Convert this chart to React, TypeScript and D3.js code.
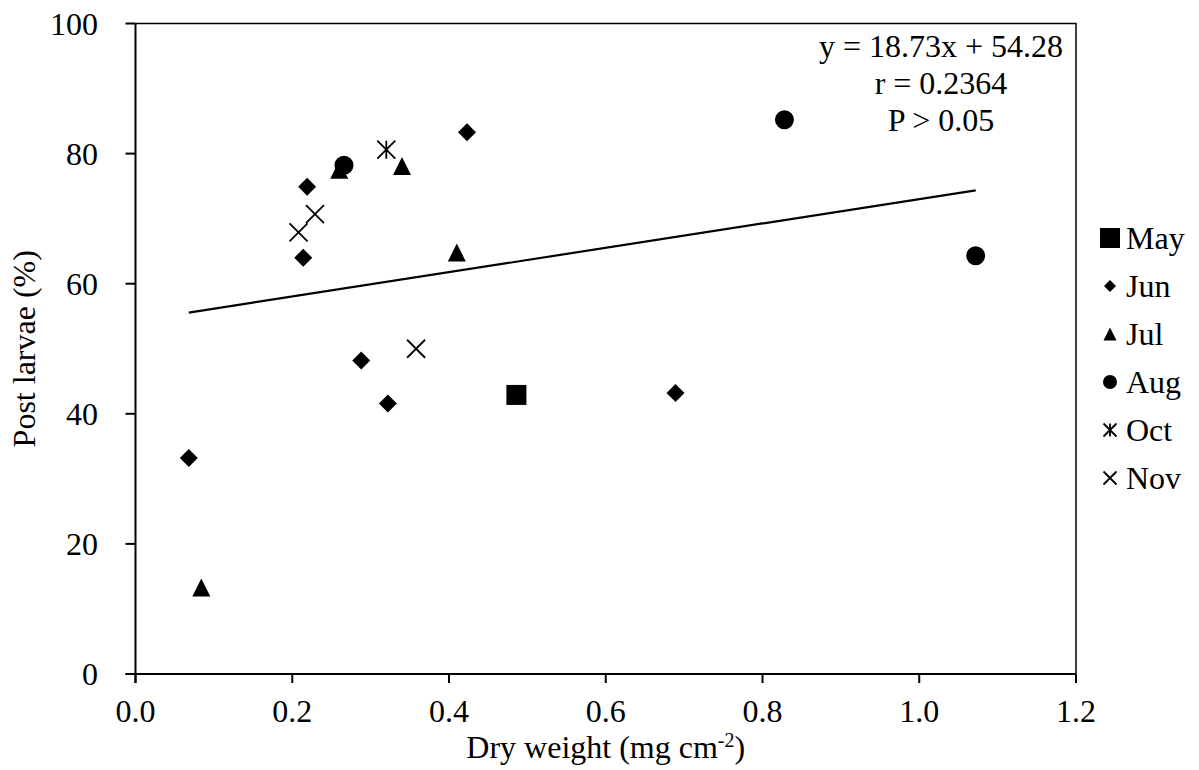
import React from "react";
import * as d3 from "d3";

const mayX = [0.486];
const mayY = [42.9];
const junX = [0.068, 0.219, 0.214, 0.288, 0.322, 0.423, 0.689];
const junY = [33.2, 74.9, 64.0, 48.2, 41.6, 83.3, 43.2];
const julX = [0.084, 0.260, 0.340, 0.410];
const julY = [13.3, 77.5, 78.1, 64.8];
const augX = [0.266, 0.828, 1.072];
const augY = [78.2, 85.2, 64.3];
const octX = [0.320];
const octY = [80.6];
const novX = [0.208, 0.229, 0.358];
const novY = [67.9, 70.7, 50.0];

const xTicks = [0, 0.2, 0.4, 0.6, 0.8, 1.0, 1.2];
const yTicks = [0, 20, 40, 60, 80, 100];
const slope = 18.73;
const intercept = 54.28;
const annotation = ["y = 18.73x + 54.28", "r = 0.2364", "P > 0.05"];
const legendLabels = ["May", "Jun", "Jul", "Aug", "Oct", "Nov"];
const markerTypes = ["square", "diamond", "triangle", "circle", "asterisk", "cross"];

const FONT = "'Liberation Serif', 'Times New Roman', serif";

function Marker({ type, cx, cy, s }: { type: string; cx: number; cy: number; s: number }) {
  const h = s / 2;
  if (type === "square") return <rect x={cx - h} y={cy - h} width={s} height={s} fill="#000" />;
  if (type === "diamond")
    return <path d={`M${cx},${cy - h}L${cx + h},${cy}L${cx},${cy + h}L${cx - h},${cy}Z`} fill="#000" />;
  if (type === "triangle")
    return <path d={`M${cx},${cy - h}L${cx + h},${cy + h}L${cx - h},${cy + h}Z`} fill="#000" />;
  if (type === "circle") return <circle cx={cx} cy={cy} r={h} fill="#000" />;
  if (type === "asterisk")
    return (
      <path
        d={`M${cx - h},${cy - h}L${cx + h},${cy + h}M${cx + h},${cy - h}L${cx - h},${cy + h}M${cx},${cy - h}L${cx},${cy + h}`}
        stroke="#000"
        strokeWidth={1.8}
        fill="none"
      />
    );
  return (
    <path
      d={`M${cx - h},${cy - h}L${cx + h},${cy + h}M${cx + h},${cy - h}L${cx - h},${cy + h}`}
      stroke="#000"
      strokeWidth={1.8}
      fill="none"
    />
  );
}

export default function App() {
  const x = d3.scaleLinear().domain([0, 1.2]).range([135.5, 1076]);
  const y = d3.scaleLinear().domain([0, 100]).range([674, 23.5]);

  const series = [
    { xs: mayX, ys: mayY, type: "square", size: 20 },
    { xs: junX, ys: junY, type: "diamond", size: 18 },
    { xs: julX, ys: julY, type: "triangle", size: 18 },
    { xs: augX, ys: augY, type: "circle", size: 19 },
    { xs: octX, ys: octY, type: "asterisk", size: 18 },
    { xs: novX, ys: novY, type: "cross", size: 18 },
  ];
  const legendSizes = [20, 12, 13, 14, 13, 13];

  const allX = [...mayX, ...junX, ...julX, ...augX, ...octX, ...novX];
  const xMin = d3.min(allX) as number;
  const xMax = d3.max(allX) as number;
  const line = d3
    .line<number>()
    .x((d) => x(d))
    .y((d) => y(slope * d + intercept));

  const [x0, x1] = x.range();
  const [y0, y1] = y.range();

  return (
    <svg
      width={1199}
      height={770}
      style={{ position: "absolute", left: 0, top: 0, background: "#fff" }}
      fontFamily={FONT}
    >
      <rect width={1199} height={770} fill="#fff" />
      <path d={`M${x0},${y1}H${x1}V${y0}`} stroke="#000" strokeWidth={1.5} fill="none" />
      <line x1={x0 - 10} x2={x1} y1={y0} y2={y0} stroke="#000" strokeWidth={2} />
      <line x1={x0} x2={x0} y1={y1} y2={y0 + 9} stroke="#000" strokeWidth={2} />
      {yTicks.map((t) => (
        <g key={"y" + t}>
          <line x1={x0 - 10} x2={x0} y1={y(t)} y2={y(t)} stroke="#000" strokeWidth={2} />
          <text x={98} y={y(t)} dy="0.35em" textAnchor="end" fontSize={32}>
            {t}
          </text>
        </g>
      ))}
      {xTicks.map((t) => (
        <g key={"x" + t}>
          <line x1={x(t)} x2={x(t)} y1={y0} y2={y0 + 9} stroke="#000" strokeWidth={2} />
          <text x={x(t)} y={722} textAnchor="middle" fontSize={32}>
            {t.toFixed(1)}
          </text>
        </g>
      ))}
      <text x={(x0 + x1) / 2} y={758} textAnchor="middle" fontSize={32}>
        Dry weight (mg cm
        <tspan dy={-11} fontSize={20}>-2</tspan>
        <tspan dy={11}>)</tspan>
      </text>
      <text transform={`translate(35,${(y0 + y1) / 2}) rotate(-90)`} textAnchor="middle" fontSize={32}>
        Post larvae (%)
      </text>
      <path d={line([xMin, xMax]) || ""} stroke="#000" strokeWidth={2.2} fill="none" />
      {series.map((s, si) =>
        s.xs.map((v, i) => <Marker key={si + "-" + i} type={s.type} cx={x(v)} cy={y(s.ys[i])} s={s.size} />)
      )}
      {annotation.map((a, i) => (
        <text key={a} x={941} y={57 + i * 37} textAnchor="middle" fontSize={32}>
          {a}
        </text>
      ))}
      {legendLabels.map((l, i) => (
        <g key={l}>
          <Marker type={markerTypes[i]} cx={1110} cy={238 + i * 48} s={legendSizes[i]} />
          <text x={1126} y={238 + i * 48} dy="0.33em" fontSize={32}>
            {l}
          </text>
        </g>
      ))}
    </svg>
  );
}
